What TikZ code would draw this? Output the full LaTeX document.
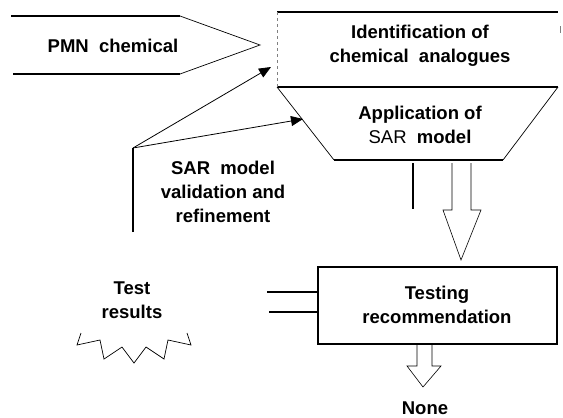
\documentclass[tikz,border=0pt]{standalone}
\usepackage{fontspec}
\setmainfont{Liberation Sans}
\usetikzlibrary{arrows.meta}
\begin{document}
\begin{tikzpicture}[x=1pt,y=-1pt,
  lbl/.style={font=\fontsize{18.5}{24}\selectfont\bfseries,align=center,inner sep=0pt},
  thick1/.style={line width=1.4pt},
  thin1/.style={line width=0.7pt},
  hollow/.style={line width=0.6pt,line join=miter},
  con/.style={line width=0.8pt,-{Triangle[length=12pt,width=10pt]}}]
\useasboundingbox (0,0) rectangle (563,418);
% PMN chemical arrow shape
\draw[thick1] (11,16) -- (180,16);
\draw[thick1] (13,74) -- (180,74);
\draw[thin1] (180,16) -- (260,45) -- (180,74);
\node[lbl] (pmn) at (113,46) {PMN~~chemical};
% Identification box
\draw[thick1] (277,12) -- (558,12);
\draw[thick1] (277,87) -- (558,87);
\draw[line width=0.4pt,dashed,gray] (277,12) -- (277,87);
\draw[line width=0.5pt,gray] (560,26) -- (560,33);
\node[lbl] (ident) at (420,46) {Identification of\\chemical~~analogues};
\coordinate (identin) at (271,67);
% Trapezoid
\draw[thin1] (277,87) -- (334,160);
\draw[thin1] (558,87) -- (503,160);
\draw[thick1] (334,160) -- (503,160);
\node[lbl] (appl) at (420,125) {Application of\\{\mdseries SAR}~~model};
\coordinate (applin) at (303,119);
% vertical bar under trapezoid
\draw[thick1] (413,163) -- (413,209);
% hollow arrow 1
\draw[hollow] (452,163) -- (452,210) -- (443,210) -- (461,260) -- (481,210) -- (471,210) -- (471,163);
% SAR validation
\coordinate (src) at (133,148);
\draw[thick1] (133,232) -- (src);
\draw[con] (src) -- (identin);
\draw[con] (src) -- (applin);
\node[lbl] (sar) at (223,192) {SAR~~model\\validation and\\refinement};
% Test results
\node[lbl] (test) at (132,300) {Test\\results};
\draw[thin1,line join=miter] (81,333) -- (77,345) -- (100,340) -- (104,359) -- (122,347) -- (134,363) -- (146,347) -- (164,359) -- (168,340) -- (191,345) -- (187,333);
% Testing recommendation box
\draw[thick1] (318,267) rectangle (557,344);
\node[lbl] (rec) at (437,305) {Testing\\recommendation};
\coordinate (recw1) at (318,292);
\coordinate (recw2) at (318,312);
\coordinate (l1) at (267,292);
\coordinate (l2) at (269,312);
\draw[thick1] (l1) -- (recw1);
\draw[thick1] (l2) -- (recw2);
% hollow arrow 2
\draw[hollow] (417,344) -- (417,366) -- (407,366) -- (423,387) -- (441,366) -- (432,366) -- (432,344);
\node[lbl] (none) at (425,408) {None};
\end{tikzpicture}
\end{document}
